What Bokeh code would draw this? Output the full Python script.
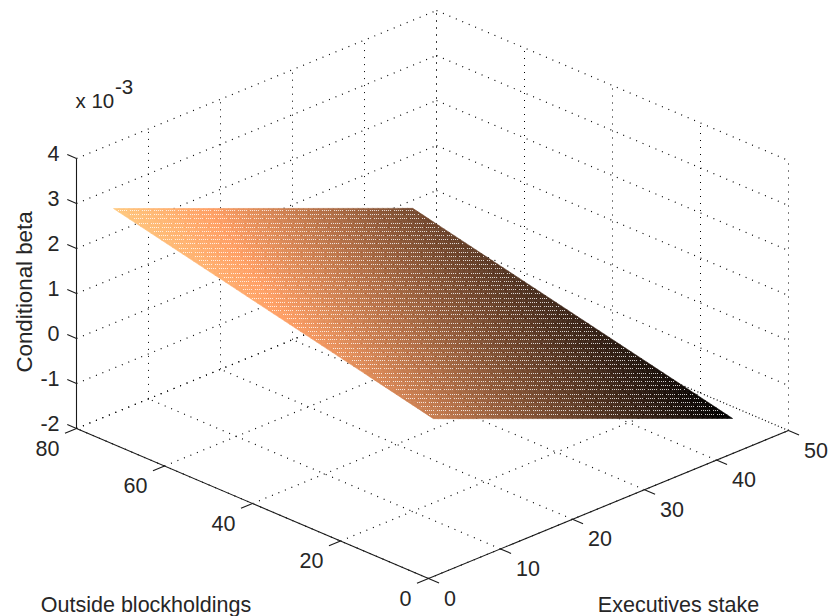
from bokeh.plotting import figure
from bokeh.models import Range1d
from bokeh.core.properties import value
from bokeh.embed import file_html
from bokeh.resources import INLINE
import numpy as np

# ---- chart values ----
executives_ticks = [0, 10, 20, 30, 40, 50]
outside_ticks = [0, 20, 40, 60, 80]
beta_ticks = [-2, -1, 0, 1, 2, 3, 4]          # x 10^-3

# the plotted plane: four corners of the surface
surf_exec = [5.14, 46.7, 46.7, 5.14]
surf_out = [80.0, 80.0, 7.3, 7.3]
surf_beta = [2.55, -0.18, -1.82, 0.91]

x_label = "Executives stake"
y_label = "Outside blockholdings"
z_label = "Conditional beta"

# ---- the 3-D view (screen pixels per data unit) ----
ORIGIN = (428.0, 578.0)
EX = (7.2, -2.96)
EY = (-4.4, -1.875)
EZ = -45.0
XMIN, XMAX = 0, 50
YMIN, YMAX = 0, 80
ZMIN, ZMAX = -2, 4


def proj(x, y, z):
    x, y, z = np.asarray(x, float), np.asarray(y, float), np.asarray(z, float)
    sx = ORIGIN[0] + EX[0] * x + EY[0] * y
    sy = ORIGIN[1] + EX[1] * x + EY[1] * y + EZ * (z - ZMIN)
    return sx, sy


def copper(t):
    t = np.clip(t, 0, 1)
    t = np.floor(t * 63.999) / 63
    return "#%02x%02x%02x" % (int(255 * min(1, 1.25 * t)), int(255 * 0.7812 * t), int(255 * 0.4975 * t))


FONT = value("Liberation Sans")
TXT = "#262626"
FS = "21.5px"

p = figure(width=829, height=616, output_backend="svg", toolbar_location=None,
           x_range=Range1d(0, 829), y_range=Range1d(616, 0), min_border=0)
p.axis.visible = False
p.grid.visible = False
p.outline_line_color = None
p.background_fill_color = "white"


def seg(x0, y0, z0, x1, y1, z1):
    a = proj(x0, y0, z0)
    b = proj(x1, y1, z1)
    return [float(a[0]), float(b[0])], [float(a[1]), float(b[1])]


# ---- dotted grids on the back walls and the floor ----
gx, gy = [], []      # slanted lines
vx, vy = [], []      # upright lines, kept on the pixel grid
for x in executives_ticks:
    s = seg(x, YMIN, ZMIN, x, YMAX, ZMIN)
    gx.append(s[0]); gy.append(s[1])
    s = seg(x, YMAX, ZMIN, x, YMAX, ZMAX)
    vx.append([float(np.round(v)) for v in s[0]]); vy.append(s[1])
for y in outside_ticks:
    s = seg(XMIN, y, ZMIN, XMAX, y, ZMIN)
    gx.append(s[0]); gy.append(s[1])
    s = seg(XMAX, y, ZMIN, XMAX, y, ZMAX)
    vx.append([float(np.round(v)) for v in s[0]]); vy.append(s[1])
for z in beta_ticks:
    for s in (seg(XMIN, YMAX, z, XMAX, YMAX, z), seg(XMAX, YMAX, z, XMAX, YMIN, z)):
        gx.append(s[0]); gy.append(s[1])
p.multi_line(gx, gy, line_color="#000000", line_width=1.2, line_dash="1 6")
p.multi_line(vx, vy, line_color="#000000", line_width=1, line_dash="1 6")

# ---- surface, shaded cell by cell between the corners ----
N = 60
A, B, C, D = [np.array(proj(surf_exec[i], surf_out[i], surf_beta[i]), float) for i in range(4)]
zlo, zhi = min(surf_beta), max(surf_beta)
zA, zB, zC, zD = surf_beta
cx, cy, cc = [], [], []
for i in range(N):
    u0, u1 = i / N, (i + 1) / N
    for j in range(N):
        v0, v1 = j / N, (j + 1) / N
        def pt(u, v):
            return A + (B - A) * u + (D - A) * v
        P = [pt(u0, v0), pt(u1, v0), pt(u1, v1), pt(u0, v1)]
        um, vm = (u0 + u1) / 2, (v0 + v1) / 2
        zm = zA + (zB - zA) * um + (zD - zA) * vm
        cx.append([float(q[0]) for q in P])
        cy.append([float(q[1]) for q in P])
        cc.append(copper((zm - zlo) / (zhi - zlo)))
p.patches(cx, cy, fill_color=cc, line_color=cc, line_width=0.6)

# ---- the surface's light mesh speckle: pixel-sized dots in staggered rows ----
dx, dy = [], []
rows = np.arange(A[1] + 2.5, D[1] - 0.5, 4.17)
for k, Y in enumerate(rows):
    Y = np.floor(Y)
    f = (Y - A[1]) / (D[1] - A[1])
    left = A[0] + (D[0] - A[0]) * f
    right = B[0] + (C[0] - B[0]) * f
    X = np.ceil(left) + 2 + (k * 5) % 7
    while X < right - 2:
        for d in range(5):
            if X + 2 * d < right - 2:
                dx.append(float(X + 2 * d))
                dy.append(float(Y))
        X += 12
p.rect(dx, dy, width=1, height=1, fill_color="#ffffff", fill_alpha=0.8, line_color=None)

# ---- axis lines and ticks ----
ax, ay = [], []
for s in (seg(XMIN, YMIN, ZMIN, XMIN, YMAX, ZMIN),
          seg(XMIN, YMIN, ZMIN, XMAX, YMIN, ZMIN),
          seg(XMIN, YMAX, ZMIN, XMIN, YMAX, ZMAX)):
    ax.append(s[0]); ay.append(s[1])
for y in outside_ticks:
    s = seg(XMIN, y, ZMIN, XMIN - 1.6, y, ZMIN)
    ax.append(s[0]); ay.append(s[1])
for x in executives_ticks:
    s = seg(x, YMIN, ZMIN, x, YMIN - 2.4, ZMIN)
    ax.append(s[0]); ay.append(s[1])
for z in beta_ticks:
    s = seg(XMIN, YMAX, z, XMIN, YMAX + 2.1, z)
    ax.append(s[0]); ay.append(s[1])
p.multi_line(ax, ay, line_color="#1a1a1a", line_width=1.1)

# ---- tick labels ----
sx, sy = proj(XMIN, outside_ticks, ZMIN)
p.text(sx - 17, sy + 19.5, text=[str(v) for v in outside_ticks], text_align="right", text_baseline="middle",
       text_font=FONT, text_font_size=FS, text_color=TXT)
sx, sy = proj(executives_ticks, YMIN, ZMIN)
p.text(sx + 15.5, sy + 19.5, text=[str(v) for v in executives_ticks], text_align="left", text_baseline="middle",
       text_font=FONT, text_font_size=FS, text_color=TXT)
sx, sy = proj(XMIN, YMAX, beta_ticks)
p.text(sx - 17, sy - 5.5, text=[str(v) for v in beta_ticks], text_align="right", text_baseline="middle",
       text_font=FONT, text_font_size=FS, text_color=TXT)

# ---- exponent and axis titles ----
p.text([75], [100], text=["x 10"], text_align="left", text_baseline="middle",
       text_font=FONT, text_font_size="20.5px", text_color=TXT)
p.text([114.5], [86], text=["-3"], text_align="left", text_baseline="middle",
       text_font=FONT, text_font_size="20.5px", text_color=TXT)
p.text([145.5], [604], text=[y_label], text_align="center", text_baseline="middle",
       text_font=FONT, text_font_size=FS, text_color=TXT)
p.text([678], [604], text=[x_label], text_align="center", text_baseline="middle",
       text_font=FONT, text_font_size=FS, text_color=TXT)
p.text([24], [291.5], text=[z_label], angle=[np.pi / 2], text_align="center", text_baseline="middle",
       text_font=FONT, text_font_size="22.3px", text_color=TXT)

open("out.html", "w").write(file_html(p, INLINE))
